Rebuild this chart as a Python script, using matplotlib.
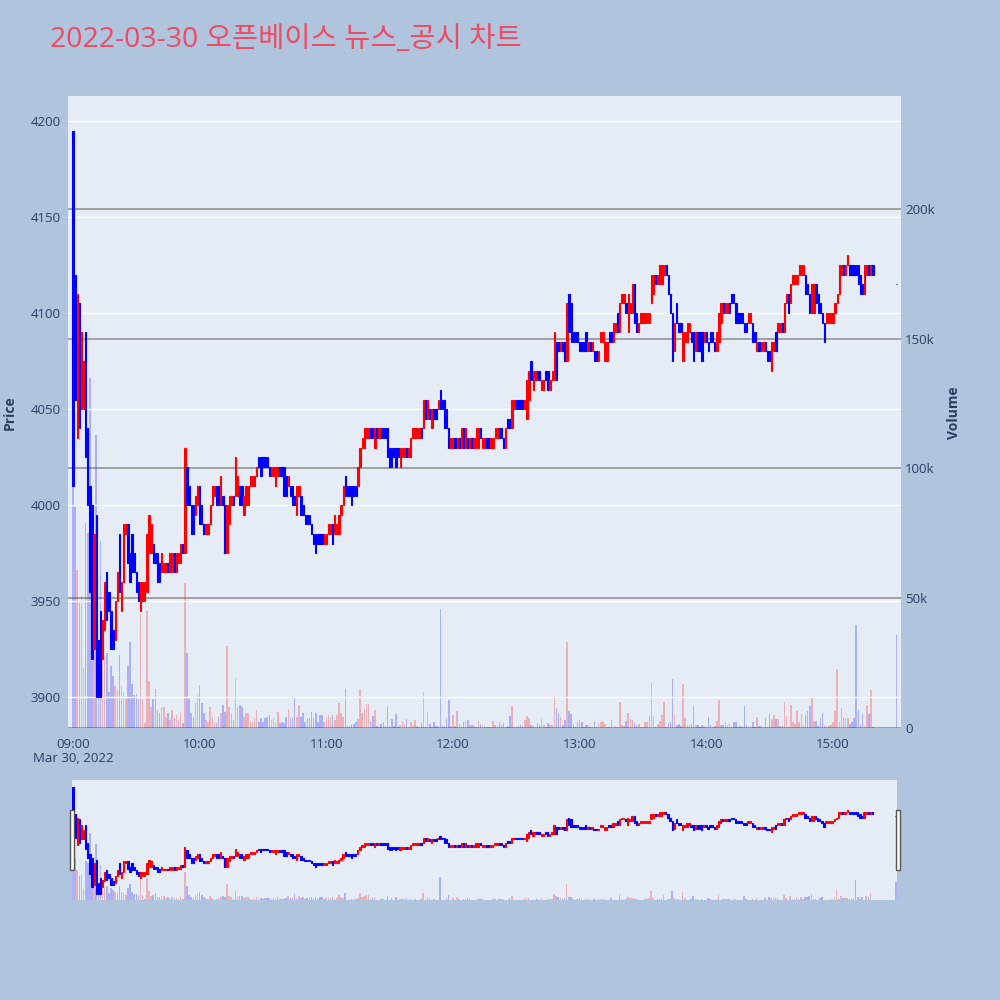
import matplotlib
matplotlib.use('Agg')
import matplotlib.pyplot as plt
from matplotlib.patches import Rectangle
import numpy as np

plt.rcParams['font.family'] = ['Open Sans', 'Noto Sans CJK KR', 'DejaVu Sans']

title = '2022-03-30 오픈베이스 뉴스_공시 차트'
date_label = 'Mar 30, 2022'
hour_labels = ['09:00', '10:00', '11:00', '12:00', '13:00', '14:00', '15:00']
price_ticks = [3900, 3950, 4000, 4050, 4100, 4150, 4200]
volume_ticks = [0, 50000, 100000, 150000, 200000]
volume_tick_labels = ['0', '50k', '100k', '150k', '200k']

# 1-minute candles from 09:00 (minute 0) onward
seg1_open = [4195, 4120, 4035, 4105, 4050, 4050, 4090, 4040, 4010, 4000,
             3925, 3995, 3930, 3945, 3920, 3935, 3965, 3955, 3945, 3935,
             3930, 3950, 3985, 3945, 3960, 3985, 3990, 3975, 3985, 3975,
             3965, 3960, 3945, 3950, 3950, 3955, 3975, 3975, 3980, 3975,
             3975, 3970, 3965, 3965, 3965, 3970, 3965, 3965, 3975, 3965,
             3970, 3970, 3980, 3975, 4020, 4010, 4000, 4000, 3995, 4000]
seg1_close = [4010, 4055, 4110, 4040, 4090, 4075, 4025, 4000, 3955, 3920,
              3985, 3900, 3900, 3900, 3940, 3960, 3940, 3945, 3925, 3925,
              3950, 3965, 3955, 3960, 3990, 3990, 3970, 3960, 3965, 3965,
              3955, 3950, 3960, 3960, 3960, 3985, 3995, 3990, 3970, 3970,
              3960, 3960, 3975, 3970, 3970, 3965, 3975, 3975, 3965, 3975,
              3975, 3980, 3975, 4030, 4000, 4000, 3985, 3985, 4005, 4010]
seg1_volume = [93000, 85000, 61000, 48000, 51000, 23000, 79000, 75000, 135000, 26000,
               42000, 113000, 30000, 72000, 40000, 27000, 29000, 14000, 24000, 20000,
               16000, 15000, 28000, 16000, 14000, 11000, 24000, 33000, 17000, 12700,
               13000, 11000, 44000, 11000, 1800, 45000, 18000, 8000, 11000, 15000,
               7000, 5600, 8000, 8000, 4400, 5600, 3000, 7000, 3700, 5000,
               3000, 6300, 1800, 56000, 29000, 11000, 5600, 4400, 9500, 12700]

seg2_open = [4010, 4000, 3990, 3985, 3985, 3990, 4000, 4005, 4010, 4010,
             4000, 4005, 4000, 3975, 3990, 4000, 4005, 4005, 4005, 4010,
             4010, 3995, 4000, 4000, 4010, 4010, 4010, 4015, 4025, 4025,
             4025, 4025, 4025, 4020, 4015, 4015, 4010, 4015, 4020, 4020,
             4020, 4015, 4010, 4010, 4010, 4005, 3995, 4005, 4005, 4000,
             3995, 3995, 3995, 3990, 3985, 3985, 3985, 3985, 3985, 3980,
             3980, 3985, 3985, 3990, 3985, 3985]
seg2_close = [3990, 3990, 3985, 3990, 3990, 4000, 4010, 4010, 4000, 4000,
              4015, 4000, 3975, 4000, 4005, 4005, 4000, 4025, 4015, 4000,
              4000, 4005, 4010, 4010, 4015, 4015, 4015, 4020, 4020, 4015,
              4020, 4020, 4020, 4015, 4020, 4020, 4020, 4020, 4015, 4015,
              4005, 4005, 4015, 4005, 4000, 4000, 4010, 4010, 3995, 3995,
              3990, 3990, 3990, 3985, 3980, 3975, 3980, 3980, 3980, 3985,
              3985, 3990, 3990, 3980, 3995, 3990]
seg2_volume = [16500, 9500, 5600, 3000, 2400, 8000, 4400, 2400, 1800, 4400,
               5600, 8700, 6300, 31500, 8000, 5600, 3000, 19000, 8000, 8700,
               8000, 4400, 5600, 5900, 2400, 2400, 3700, 7000, 2400, 3700,
               2400, 3700, 4400, 5000, 3000, 3700, 1800, 6300, 1800, 2400,
               1800, 4400, 7500, 3700, 4400, 11400, 4400, 8700, 4400, 5600,
               2400, 3700, 3700, 6300, 3700, 5600, 2400, 5200, 5200, 2400,
               4400, 5000, 4400, 5200, 3000, 5000]

seg3_open = [3985, 3995, 4000, 4015, 4010, 4010, 4010, 4010, 4010, 4010,
             4020, 4030, 4030, 4035, 4035, 4040, 4040, 4030, 4040, 4035,
             4040, 4040, 4040, 4040, 4030, 4030, 4030, 4030, 4030, 4020,
             4025, 4025, 4030, 4025, 4025, 4035, 4035, 4035, 4035, 4040,
             4040, 4055, 4045, 4050, 4040, 4050, 4050, 4050, 4060, 4055,
             4055, 4050, 4040, 4030, 4030, 4035, 4030, 4035, 4030, 4040,
             4030, 4035, 4030, 4035, 4030, 4030]
seg3_close = [3995, 4000, 4010, 4005, 4005, 4005, 4000, 4005, 4005, 4020,
              4030, 4035, 4040, 4040, 4040, 4035, 4035, 4040, 4035, 4040,
              4035, 4035, 4035, 4025, 4020, 4020, 4025, 4020, 4025, 4030,
              4030, 4030, 4025, 4030, 4035, 4040, 4040, 4040, 4040, 4035,
              4055, 4045, 4055, 4045, 4050, 4045, 4045, 4055, 4050, 4050,
              4040, 4040, 4030, 4035, 4035, 4030, 4035, 4030, 4040, 4030,
              4040, 4030, 4035, 4030, 4035, 4040]
seg3_volume = [9500, 5600, 4400, 15000, 600, 600, 1700, 1700, 2300, 3600,
               15000, 5800, 7500, 9400, 9400, 2800, 4500, 7000, 600, 400,
               1700, 2200, 600, 8400, 900, 3500, 900, 5500, 300, 1200,
               2800, 1700, 3500, 400, 2200, 900, 3000, 600, 400, 1900,
               14000, 400, 6200, 1700, 400, 2300, 600, 600, 46000, 900,
               600, 3900, 10700, 900, 4900, 600, 6700, 1400, 400, 2200,
               2700, 3200, 1300, 1000, 600, 400]

seg4_open = [4030, 4040, 4030, 4030, 4035, 4035, 4030, 4030, 4035, 4035,
             4040, 4040, 4035, 4030, 4045, 4045, 4040, 4050, 4055, 4055,
             4055, 4055, 4050, 4045, 4055, 4075, 4060, 4065, 4070, 4070,
             4060, 4060, 4070, 4070, 4060, 4065, 4065, 4085, 4085, 4080,
             4085, 4085, 4075, 4110, 4105, 4090, 4090, 4090, 4085, 4085,
             4085, 4090, 4080, 4085, 4080, 4080, 4080, 4075, 4085, 4085,
             4075, 4075, 4090, 4090, 4085, 4090, 4100]
seg4_close = [4040, 4035, 4035, 4035, 4030, 4030, 4035, 4035, 4040, 4040,
              4035, 4035, 4030, 4040, 4040, 4040, 4055, 4055, 4050, 4050,
              4050, 4050, 4055, 4065, 4070, 4065, 4070, 4070, 4065, 4065,
              4065, 4065, 4065, 4060, 4065, 4070, 4090, 4065, 4080, 4085,
              4080, 4075, 4105, 4090, 4085, 4085, 4085, 4085, 4080, 4080,
              4080, 4080, 4085, 4080, 4085, 4075, 4075, 4080, 4090, 4090,
              4085, 4085, 4085, 4085, 4095, 4095, 4090]
seg4_volume = [2800, 1700, 1300, 900, 400, 400, 400, 2800, 1300, 600,
               2500, 1300, 1900, 400, 600, 4800, 8500, 400, 300, 600,
               1000, 600, 3200, 4500, 3700, 1000, 600, 400, 1900, 1000,
               3600, 1000, 400, 1800, 1300, 1300, 12500, 7600, 5800, 4100,
               1300, 3200, 33000, 6700, 5500, 1500, 400, 2300, 3200, 2500,
               400, 1300, 1300, 400, 300, 2600, 400, 1900, 2200, 2600,
               1700, 400, 400, 3200, 400, 600, 400]

seg5_open = [4090, 4105, 4105, 4105, 4090, 4100, 4100, 4115, 4100, 4090,
             4095, 4095, 4095, 4095, 4095, 4105, 4110, 4120, 4115, 4115,
             4115, 4120, 4125, 4120, 4110, 4100, 4080, 4105, 4095, 4095,
             4075, 4085, 4085, 4090, 4090, 4090, 4080, 4090, 4090, 4090,
             4085, 4090, 4085, 4090, 4090, 4085, 4080, 4085, 4095, 4105,
             4100, 4100, 4105, 4110, 4110, 4105, 4100, 4100, 4100, 4095,
             4095, 4095, 4095, 4095, 4090, 4080, 4085]
seg5_close = [4105, 4110, 4110, 4100, 4110, 4105, 4115, 4095, 4090, 4095,
              4100, 4100, 4100, 4100, 4100, 4120, 4120, 4115, 4120, 4125,
              4125, 4125, 4120, 4110, 4100, 4075, 4095, 4095, 4090, 4090,
              4090, 4090, 4095, 4095, 4085, 4075, 4090, 4080, 4080, 4075,
              4090, 4085, 4080, 4085, 4085, 4080, 4090, 4100, 4105, 4100,
              4105, 4105, 4100, 4105, 4105, 4095, 4095, 4095, 4095, 4090,
              4090, 4100, 4100, 4085, 4085, 4085, 4080]
seg5_volume = [10000, 1300, 600, 2600, 5800, 3500, 3200, 1900, 1300, 1700,
               400, 400, 2500, 2200, 4800, 17400, 4800, 400, 1700, 2800,
               5000, 10000, 400, 1900, 2500, 19000, 4900, 1200, 1400, 600,
               16800, 4000, 1000, 1000, 1400, 8500, 1300, 1300, 400, 1200,
               600, 400, 4300, 1200, 400, 600, 2600, 10700, 1000, 1300,
               2200, 1300, 1700, 400, 2200, 2300, 400, 600, 300, 8400,
               1300, 400, 900, 2200, 300, 4400, 600]

seg6_open = [4080, 4080, 4085, 4080, 4080, 4070, 4080, 4090, 4090, 4090,
             4095, 4090, 4105, 4110, 4105, 4115, 4115, 4115, 4120, 4120,
             4120, 4120, 4115, 4110, 4100, 4100, 4115, 4110, 4105, 4100,
             4095, 4095, 4095, 4095, 4095, 4100, 4105, 4110, 4120, 4125,
             4120, 4125, 4125, 4125, 4125, 4125, 4125, 4120, 4115, 4110,
             4120, 4125, 4120, 4125]
seg6_close = [4085, 4085, 4080, 4075, 4075, 4085, 4085, 4080, 4095, 4095,
              4090, 4105, 4110, 4100, 4115, 4120, 4120, 4120, 4125, 4125,
              4125, 4110, 4110, 4100, 4115, 4115, 4105, 4100, 4100, 4095,
              4085, 4100, 4100, 4100, 4100, 4105, 4110, 4125, 4125, 4120,
              4125, 4130, 4120, 4120, 4120, 4120, 4115, 4110, 4110, 4125,
              4125, 4120, 4125, 4120]
seg6_volume = [900, 400, 4000, 400, 5400, 3500, 5000, 3600, 3600, 900,
               900, 10000, 4500, 400, 8800, 2300, 1700, 6700, 2200, 5500,
               1300, 5200, 6700, 8300, 11600, 2600, 2600, 900, 3700, 5800,
               900, 600, 900, 1200, 2300, 6500, 22600, 2200, 7700, 3700,
               3700, 3700, 1700, 2200, 3700, 39700, 6800, 1300, 5400, 600,
               9000, 5400, 14600, 400]

# closing single-price auction at 15:30
close_auction_minute = 390
close_auction_price = 4115
close_auction_volume = 36000

opens = seg1_open + seg2_open + seg3_open + seg4_open + seg5_open + seg6_open
closes = seg1_close + seg2_close + seg3_close + seg4_close + seg5_close + seg6_close
volumes = seg1_volume + seg2_volume + seg3_volume + seg4_volume + seg5_volume + seg6_volume
n = min(len(opens), len(closes), len(volumes))

minutes = np.array(list(range(n)) + [close_auction_minute], dtype=float)
opens = np.array(opens[:n] + [close_auction_price], dtype=float)
closes = np.array(closes[:n] + [close_auction_price], dtype=float)
volumes = np.array(volumes[:n] + [close_auction_volume], dtype=float)

UP = '#FF0000'
DOWN = '#0000FF'
colors = np.where(closes > opens, UP, DOWN)
bottoms = np.minimum(opens, closes)
heights = np.abs(closes - opens)

FIG_BG = '#B0C4DE'
PLOT_BG = '#E5ECF6'
TXT = '#2a3f5f'

fig = plt.figure(figsize=(10, 10), dpi=100, facecolor=FIG_BG)

# ---------- main chart ----------
ax = fig.add_axes([0.068, 0.272, 0.833, 0.632])
axv = ax.twinx()
ax.set_zorder(2)
axv.set_zorder(1)
ax.patch.set_visible(False)
axv.patch.set_visible(True)
axv.patch.set_facecolor(PLOT_BG)

axv.bar(minutes, volumes, width=0.75, color=colors, alpha=0.25, linewidth=0)
axv.set_ylim(0, 243500)
axv.set_yticks(volume_ticks)
axv.set_yticklabels(volume_tick_labels)
axv.grid(axis='y', color='#999999', linewidth=1.3)
axv.set_axisbelow(True)

ax.bar(minutes, heights, width=0.6, bottom=bottoms, color=colors,
       edgecolor=colors, linewidth=0.8, zorder=3)
ax.set_ylim(3884, 4213)
ax.set_xlim(-2.37, 392.2)
ax.set_yticks(price_ticks)
ax.set_yticklabels([str(p) for p in price_ticks])
ax.grid(axis='y', color='white', linewidth=1.0, zorder=0)
ax.grid(axis='x', visible=False)
ax.set_xticks([60 * i for i in range(len(hour_labels))])
ax.set_xticklabels(hour_labels)

for a in (ax, axv):
    for s in a.spines.values():
        s.set_visible(False)
    a.tick_params(length=0, labelsize=9.5, colors=TXT)
ax.tick_params(axis='y', pad=5)
ax.tick_params(axis='x', pad=7)
axv.tick_params(axis='y', pad=3)

fig.text(0.073, 1 - 0.758, date_label, ha='center', va='center',
         fontsize=9.5, color=TXT)
fig.text(0.010, 1 - 0.413, 'Price', rotation=90, ha='center', va='center',
         fontsize=10, fontweight='bold', color=TXT)
fig.text(0.954, 1 - 0.413, 'Volume', rotation=90, ha='center', va='center',
         fontsize=10, fontweight='bold', color=TXT)
fig.text(0.050, 1 - 0.040, title, ha='left', va='center', fontsize=20.5,
         color='#EE4B63')

# ---------- range slider ----------
rs = fig.add_axes([0.072, 0.100, 0.825, 0.120])
rsv = rs.twinx()
rs.set_zorder(2)
rsv.set_zorder(1)
rs.patch.set_visible(False)
rsv.patch.set_visible(True)
rsv.patch.set_facecolor(PLOT_BG)
rsv.bar(minutes, volumes, width=0.75, color=colors, alpha=0.25, linewidth=0)
rsv.set_ylim(0, 243500)
rs.bar(minutes, heights, width=0.6, bottom=bottoms, color=colors,
       edgecolor=colors, linewidth=0.8)
rs.set_ylim(3884, 4213)
rs.set_xlim(-0.5, 390.6)
for a in (rs, rsv):
    a.set_xticks([])
    a.set_yticks([])
    for s in a.spines.values():
        s.set_visible(False)

for hx in (0.0695, 0.8955):
    fig.patches.append(Rectangle((hx, 1 - 0.870), 0.0045, 0.060,
                                 transform=fig.transFigure, facecolor='white',
                                 edgecolor='#555555', linewidth=1.0, zorder=10))

fig.savefig('out.png', dpi=100, facecolor=FIG_BG)
